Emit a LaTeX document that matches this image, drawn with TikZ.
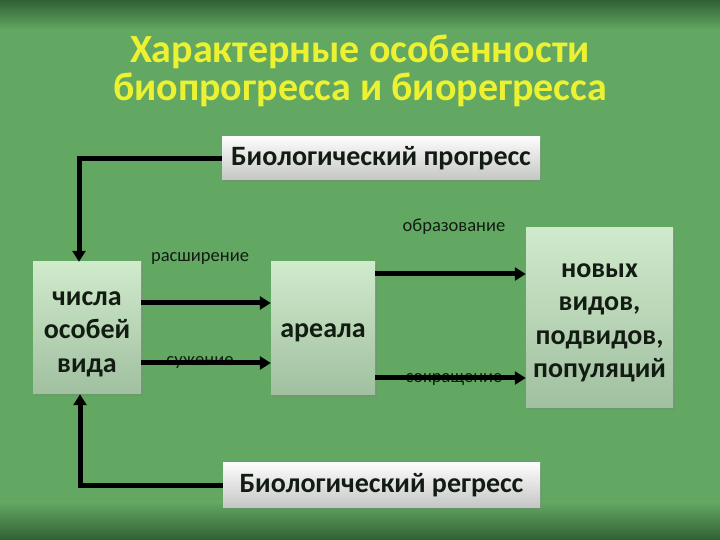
\documentclass[tikz,border=0pt]{standalone}
\usepackage{fontspec}
\setmainfont{Carlito}
\usetikzlibrary{arrows.meta,shadows,calc}
\definecolor{bgmain}{RGB}{98,168,98}
\definecolor{bgdark}{RGB}{48,96,52}
\definecolor{titlecol}{RGB}{236,242,50}
\definecolor{boxtop}{RGB}{208,234,204}
\definecolor{boxbot}{RGB}{160,192,160}
\definecolor{lbltop}{RGB}{252,252,252}
\definecolor{lblbot}{RGB}{196,198,196}
\definecolor{ink}{RGB}{18,28,18}
\tikzset{
  greenbox/.style={draw=none, top color=boxtop, bottom color=boxbot, inner sep=0pt,
    drop shadow={shadow xshift=2pt, shadow yshift=-2pt, opacity=0.35}},
  boxtext/.style={align=center, text=ink, inner sep=0pt, font=\bfseries\fontsize{28}{33.5}\selectfont},
  labelbox/.style={draw=none, top color=lbltop, bottom color=lblbot, align=center,
    text=ink, inner sep=0pt, font=\bfseries\fontsize{28}{32}\selectfont,
    drop shadow={shadow xshift=2pt, shadow yshift=-2pt, opacity=0.35}},
  conn/.style={line width=5pt, draw=black, -{Triangle[length=11pt,width=13pt]}},
  small/.style={text=ink, font=\fontsize{18.5}{20}\selectfont, inner sep=0pt},
  titletext/.style={text=titlecol, font=\bfseries\fontsize{40}{44}\selectfont, inner sep=0pt}
}
\begin{document}
\begin{tikzpicture}[x=1pt,y=1pt]
\useasboundingbox (0,0) rectangle (720,540);
% background
\fill[bgmain] (0,0) rectangle (720,540);
\shade[top color=bgdark, bottom color=bgmain] (0,510) rectangle (720,540);
\shade[top color=bgmain, bottom color=bgdark] (0,0) rectangle (720,38);
% title
\node[titletext] (t1) at (360,488) {Характерные особенности};
\node[titletext] (t2) at (360,450) {биопрогресса и биорегресса};
% boxes
\node[labelbox, minimum width=318pt, minimum height=43pt] (prog) at (381,381.5) {Биологический прогресс};
\node[labelbox, minimum width=317pt, minimum height=45pt] (reg) at (381.5,54.5) {Биологический регресс};
\node[greenbox, minimum width=108pt, minimum height=132pt] (num) at (87,212) {};
\node[greenbox, minimum width=104pt, minimum height=133pt] (area) at (323,211.5) {};
\node[greenbox, minimum width=147pt, minimum height=180pt] (new) at (599.5,222) {};
\node[boxtext] (numt) at ([yshift=-6pt]num.center) {числа\\особей\\вида};
\node[boxtext] (areat) at ([yshift=-4pt]area.center) {ареала};
\node[boxtext] (newt) at ([yshift=-5pt]new.center) {новых\\видов,\\подвидов,\\популяций};
% labels
\node[small] (l1) at (200,281) {расширение};
\node[small] (l2) at (200,177) {сужение};
\node[small] (l3) at (454,313) {образование};
\node[small] (l4) at (454,160) {сокращение};
% connectors
\draw[conn] (prog.west) -| ($(num.north)+(-8,0)$);
\draw[conn] (reg.west) -| ($(num.south)+(-7,0)$);
\draw[conn] ([yshift=25pt]num.east) -- ([yshift=25pt]num.east -| area.west);
\draw[conn] ([yshift=-35pt]num.east) -- ([yshift=-35pt]num.east -| area.west);
\draw[conn] ([yshift=54.5pt]area.east) -- ([yshift=54.5pt]area.east -| new.west);
\draw[conn] ([yshift=-49.5pt]area.east) -- ([yshift=-49.5pt]area.east -| new.west);
\end{tikzpicture}
\end{document}
